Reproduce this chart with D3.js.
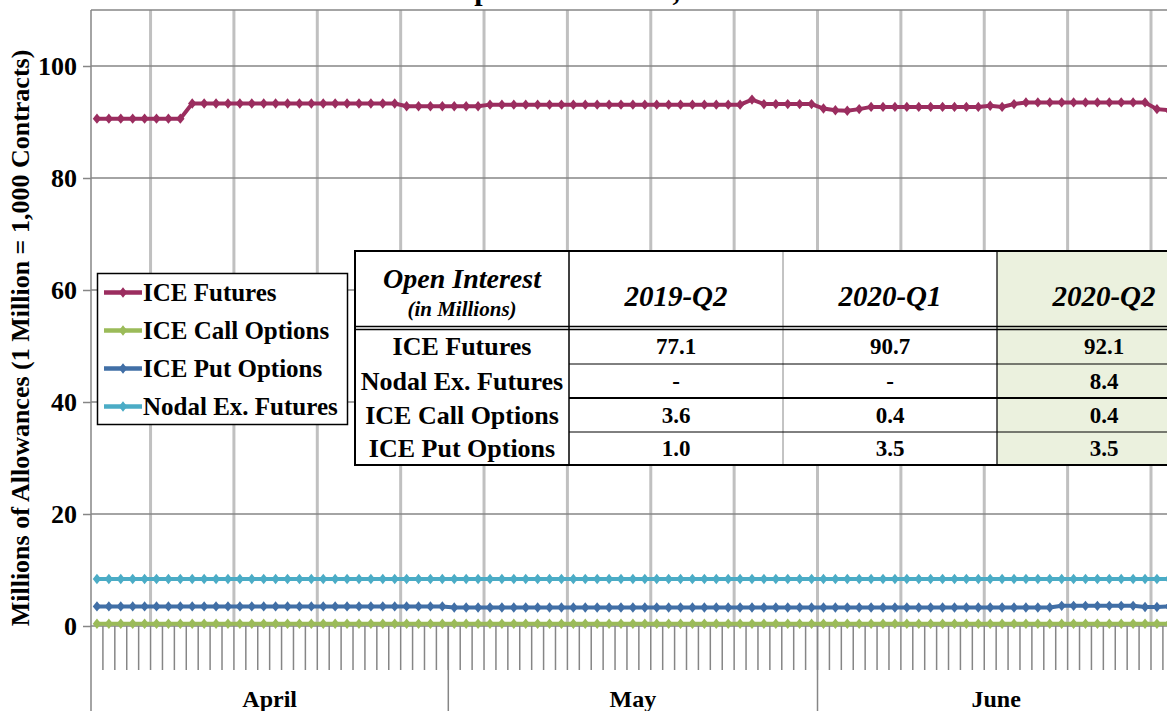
<!DOCTYPE html>
<html>
<head>
<meta charset="utf-8">
<script src="https://cdn.jsdelivr.net/npm/d3@7/dist/d3.min.js"></script>
<style>
  body { margin: 0; background: #fff; }
  svg { display: block; }
  text { font-family: "Liberation Serif", "Times New Roman", serif; font-weight: bold; }
</style>
</head>
<body>
<svg id="chart" width="1167" height="711"></svg>
<script>
// categories: every calendar day, April 1 - June 30 2020
const days = d3.timeDay.range(new Date(2020, 3, 1), new Date(2020, 6, 1));
const months = ['April', 'May', 'June'];
const yTicks = [0, 20, 40, 60, 80, 100];

// series values (millions), one per day
const iceFutures = [
  90.6, 90.6, 90.6, 90.6, 90.6, 90.6, 90.6, 90.6, 93.3, 93.3, 93.3, 93.3, 93.3, 93.3, 93.3,
  93.3, 93.3, 93.3, 93.3, 93.3, 93.3, 93.3, 93.3, 93.3, 93.3, 93.3, 92.8, 92.8, 92.8, 92.8,
  92.8, 92.8, 92.8, 93.1, 93.1, 93.1, 93.1, 93.1, 93.1, 93.1, 93.1, 93.1, 93.1, 93.1, 93.1, 93.1,
  93.1, 93.1, 93.1, 93.1, 93.1, 93.1, 93.1, 93.1, 93.1, 94.0, 93.2, 93.2, 93.2, 93.2, 93.2,
  92.4, 92.1, 92.0, 92.3, 92.7, 92.7, 92.7, 92.7, 92.7, 92.7, 92.7, 92.7, 92.7, 92.7, 92.9,
  92.7, 93.2, 93.5, 93.5, 93.5, 93.5, 93.5, 93.5, 93.5, 93.5, 93.5, 93.5, 93.5, 92.3, 92.1
];
const iceCall = [
  0.4, 0.4, 0.4, 0.4, 0.4, 0.4, 0.4, 0.4, 0.4, 0.4, 0.4, 0.4, 0.4, 0.4, 0.4,
  0.4, 0.4, 0.4, 0.4, 0.4, 0.4, 0.4, 0.4, 0.4, 0.4, 0.4, 0.4, 0.4, 0.4, 0.4,
  0.4, 0.4, 0.4, 0.4, 0.4, 0.4, 0.4, 0.4, 0.4, 0.4, 0.4, 0.4, 0.4, 0.4, 0.4, 0.4,
  0.4, 0.4, 0.4, 0.4, 0.4, 0.4, 0.4, 0.4, 0.4, 0.4, 0.4, 0.4, 0.4, 0.4, 0.4,
  0.4, 0.4, 0.4, 0.4, 0.4, 0.4, 0.4, 0.4, 0.4, 0.4, 0.4, 0.4, 0.4, 0.4, 0.4,
  0.4, 0.4, 0.4, 0.4, 0.4, 0.4, 0.4, 0.4, 0.4, 0.4, 0.4, 0.4, 0.4, 0.4, 0.4
];
const icePut = [
  3.5, 3.5, 3.5, 3.5, 3.5, 3.5, 3.5, 3.5, 3.5, 3.5, 3.5, 3.5, 3.5, 3.5, 3.5,
  3.5, 3.5, 3.5, 3.5, 3.5, 3.5, 3.5, 3.5, 3.5, 3.5, 3.5, 3.5, 3.5, 3.5, 3.5,
  3.3, 3.3, 3.3, 3.3, 3.3, 3.3, 3.3, 3.3, 3.3, 3.3, 3.3, 3.3, 3.3, 3.3, 3.3, 3.3,
  3.3, 3.3, 3.3, 3.3, 3.3, 3.3, 3.3, 3.3, 3.3, 3.3, 3.3, 3.3, 3.3, 3.3, 3.3,
  3.3, 3.3, 3.3, 3.3, 3.3, 3.3, 3.3, 3.3, 3.3, 3.3, 3.3, 3.3, 3.3, 3.3, 3.3,
  3.3, 3.3, 3.3, 3.3, 3.3, 3.6, 3.6, 3.6, 3.6, 3.6, 3.6, 3.6, 3.4, 3.4, 3.5
];
const nodalFutures = [
  8.4, 8.4, 8.4, 8.4, 8.4, 8.4, 8.4, 8.4, 8.4, 8.4, 8.4, 8.4, 8.4, 8.4, 8.4,
  8.4, 8.4, 8.4, 8.4, 8.4, 8.4, 8.4, 8.4, 8.4, 8.4, 8.4, 8.4, 8.4, 8.4, 8.4,
  8.4, 8.4, 8.4, 8.4, 8.4, 8.4, 8.4, 8.4, 8.4, 8.4, 8.4, 8.4, 8.4, 8.4, 8.4, 8.4,
  8.4, 8.4, 8.4, 8.4, 8.4, 8.4, 8.4, 8.4, 8.4, 8.4, 8.4, 8.4, 8.4, 8.4, 8.4,
  8.4, 8.4, 8.4, 8.4, 8.4, 8.4, 8.4, 8.4, 8.4, 8.4, 8.4, 8.4, 8.4, 8.4, 8.4,
  8.4, 8.4, 8.4, 8.4, 8.4, 8.4, 8.4, 8.4, 8.4, 8.4, 8.4, 8.4, 8.4, 8.4, 8.4
];

const seriesNames = ['ICE Futures', 'ICE Call Options', 'ICE Put Options', 'Nodal Ex. Futures'];
const seriesColors = ['#9b2d5f', '#9bbb59', '#416fa6', '#4bacc6'];
const seriesValues = [iceFutures, iceCall, icePut, nodalFutures];

// summary table
const tableCols = ['2019-Q2', '2020-Q1', '2020-Q2'];
const tableRows = ['ICE Futures', 'Nodal Ex. Futures', 'ICE Call Options', 'ICE Put Options'];
const col2019Q2 = ['77.1', '-', '3.6', '1.0'];
const col2020Q1 = ['90.7', '-', '0.4', '3.5'];
const col2020Q2 = ['92.1', '8.4', '0.4', '3.5'];

const fmt = d3.timeFormat('%Y-%m-%d');
const keys = days.map(fmt);

const plotLeft = 91, plotTop = 10, plotBottom = 626, dayW = 11.91;

const x = d3.scaleBand().domain(keys).range([plotLeft, plotLeft + keys.length * dayW]).padding(0);
const y = d3.scaleLinear().domain([0, 110]).range([plotBottom, plotTop]);
const bw = x.bandwidth();

const svg = d3.select('#chart');

// title (mostly above the visible area)
svg.append('text')
  .attr('x', 600).attr('y', 0)
  .attr('text-anchor', 'middle')
  .attr('font-size', 30)
  .text('April 1 \u2013 June 30, 2020');

// vertical weekly gridlines (Mondays)
svg.append('g')
  .selectAll('line')
  .data(days.filter(d => d.getDay() === 1))
  .join('line')
  .attr('x1', d => x(fmt(d))).attr('x2', d => x(fmt(d)))
  .attr('y1', plotTop).attr('y2', plotBottom)
  .attr('stroke', '#c0c0c0').attr('stroke-width', 3);

// horizontal gridlines
svg.append('g')
  .selectAll('line')
  .data(yTicks.concat([110]))
  .join('line')
  .attr('x1', plotLeft).attr('x2', 1167)
  .attr('y1', d => y(d)).attr('y2', d => y(d))
  .attr('stroke', '#868686').attr('stroke-width', 1.5);

// y axis
const yAxis = svg.append('g')
  .attr('transform', `translate(${plotLeft},0)`)
  .call(d3.axisLeft(y).tickValues(yTicks).tickSize(8).tickPadding(6));
yAxis.select('.domain').remove();
yAxis.selectAll('line').attr('stroke', '#868686').attr('stroke-width', 1.5);
yAxis.selectAll('text')
  .attr('font-size', 26).attr('font-family', '"Liberation Serif", serif')
  .attr('font-weight', 'bold').attr('fill', '#000');

// y axis line, running down through the month band
svg.append('line')
  .attr('x1', plotLeft).attr('x2', plotLeft).attr('y1', plotTop).attr('y2', 711)
  .attr('stroke', '#868686').attr('stroke-width', 1.5);

// x axis: day ticks between categories
svg.append('g')
  .selectAll('line')
  .data(keys.slice(1))
  .join('line')
  .attr('x1', d => x(d)).attr('x2', d => x(d))
  .attr('y1', plotBottom).attr('y2', 670)
  .attr('stroke', '#868686').attr('stroke-width', 1.5);

// month separators and labels
const monthFirst = months.map((m, i) => days.find(d => d.getMonth() === 3 + i));
const monthLast = months.map((m, i) => days.filter(d => d.getMonth() === 3 + i).pop());
svg.append('g')
  .selectAll('line')
  .data(monthFirst.slice(1))
  .join('line')
  .attr('x1', d => x(fmt(d))).attr('x2', d => x(fmt(d)))
  .attr('y1', plotBottom).attr('y2', 711)
  .attr('stroke', '#868686').attr('stroke-width', 1.5);
svg.append('g')
  .selectAll('text')
  .data(months)
  .join('text')
  .attr('x', (m, i) => (x(fmt(monthFirst[i])) + x(fmt(monthLast[i])) + bw) / 2)
  .attr('y', 707)
  .attr('text-anchor', 'middle')
  .attr('font-size', 24)
  .text(m => m);

// y axis title
svg.append('text')
  .attr('transform', 'translate(29,338) rotate(-90)')
  .attr('text-anchor', 'middle')
  .attr('font-size', 26)
  .text('Millions of Allowances  (1 Million = 1,000 Contracts)');

// series
const diamond = 'M0,-5.2L4.2,0L0,5.2L-4.2,0Z';
const line = d3.line()
  .x((v, i) => x(keys[i]) + bw / 2)
  .y(v => y(v));

const drawOrder = [3, 2, 1, 0];
drawOrder.forEach(s => {
  const g = svg.append('g');
  g.append('path')
    .attr('d', line(seriesValues[s]))
    .attr('fill', 'none')
    .attr('stroke', seriesColors[s])
    .attr('stroke-width', 4);
  g.selectAll('path.pt')
    .data(seriesValues[s])
    .join('path')
    .attr('class', 'pt')
    .attr('d', diamond)
    .attr('transform', (v, i) => `translate(${x(keys[i]) + bw / 2},${y(v)})`)
    .attr('fill', seriesColors[s]);
});

// legend
const legend = svg.append('g');
legend.append('rect')
  .attr('x', 97.5).attr('y', 273.5).attr('width', 250).attr('height', 151)
  .attr('fill', '#fff').attr('stroke', '#000').attr('stroke-width', 1.5);
const legendItems = legend.selectAll('g')
  .data(seriesNames)
  .join('g')
  .attr('transform', (d, i) => `translate(0,${292.5 + i * 38})`);
legendItems.append('line')
  .attr('x1', 104).attr('x2', 142).attr('y1', 0).attr('y2', 0)
  .attr('stroke', (d, i) => seriesColors[i]).attr('stroke-width', 4.5);
legendItems.append('path')
  .attr('d', diamond)
  .attr('transform', 'translate(123,0)')
  .attr('fill', (d, i) => seriesColors[i]);
legendItems.append('text')
  .attr('x', 143).attr('y', 0).attr('dy', '0.34em')
  .attr('font-size', 25)
  .text(d => d);

// summary table
const colX = [355, 569, 783, 997, 1211];
const rowY = [251, 328, 364, 398, 432, 465];
const table = svg.append('g');
table.append('rect')
  .attr('x', colX[0]).attr('y', rowY[0]).attr('width', colX[4] - colX[0]).attr('height', rowY[5] - rowY[0])
  .attr('fill', '#fff');
table.append('rect')
  .attr('x', colX[3]).attr('y', rowY[0]).attr('width', colX[4] - colX[3]).attr('height', rowY[5] - rowY[0])
  .attr('fill', '#ebf1de');

// header
table.append('text')
  .attr('x', (colX[0] + colX[1]) / 2).attr('y', 288)
  .attr('text-anchor', 'middle').attr('font-size', 28).attr('font-style', 'italic')
  .text('Open Interest');
table.append('text')
  .attr('x', (colX[0] + colX[1]) / 2).attr('y', 316)
  .attr('text-anchor', 'middle').attr('font-size', 21).attr('font-style', 'italic').attr('font-weight', 'normal')
  .text('(in Millions)');
table.selectAll('text.colhead')
  .data(tableCols)
  .join('text')
  .attr('class', 'colhead')
  .attr('x', (d, i) => (colX[i + 1] + colX[i + 2]) / 2).attr('y', 306)
  .attr('text-anchor', 'middle').attr('font-size', 29).attr('font-style', 'italic')
  .text(d => d);

// rows
table.selectAll('text.rowhead')
  .data(tableRows)
  .join('text')
  .attr('class', 'rowhead')
  .attr('x', (colX[0] + colX[1]) / 2)
  .attr('y', (d, i) => (rowY[i + 1] + rowY[i + 2]) / 2).attr('dy', '0.34em')
  .attr('text-anchor', 'middle').attr('font-size', 26)
  .text(d => d);
[col2019Q2, col2020Q1, col2020Q2].forEach((col, c) => {
  table.append('g')
    .selectAll('text')
    .data(col)
    .join('text')
    .attr('x', (colX[c + 1] + colX[c + 2]) / 2)
    .attr('y', (d, i) => (rowY[i + 1] + rowY[i + 2]) / 2).attr('dy', '0.34em')
    .attr('text-anchor', 'middle').attr('font-size', 23)
    .text(d => d);
});

// table rules
const rule = (x1, y1, x2, y2, w, c) => table.append('line')
  .attr('x1', x1).attr('y1', y1).attr('x2', x2).attr('y2', y2)
  .attr('stroke', c || '#000').attr('stroke-width', w);
rule(colX[1], rowY[0], colX[1], rowY[5], 1.5);
rule(colX[2], rowY[0], colX[2], rowY[5], 1, '#888');
rule(colX[3], rowY[0], colX[3], rowY[5], 1.2);
rule(colX[0], 326.5, colX[4], 326.5, 1.5);
rule(colX[0], 329.5, colX[4], 329.5, 1.5);
rule(colX[1], rowY[2], colX[4], rowY[2], 1);
rule(colX[1], rowY[3], colX[4], rowY[3], 2);
rule(colX[1], rowY[4], colX[4], rowY[4], 1);
table.append('rect')
  .attr('x', colX[0]).attr('y', rowY[0]).attr('width', colX[4] - colX[0]).attr('height', rowY[5] - rowY[0])
  .attr('fill', 'none').attr('stroke', '#000').attr('stroke-width', 2);
</script>
</body>
</html>
